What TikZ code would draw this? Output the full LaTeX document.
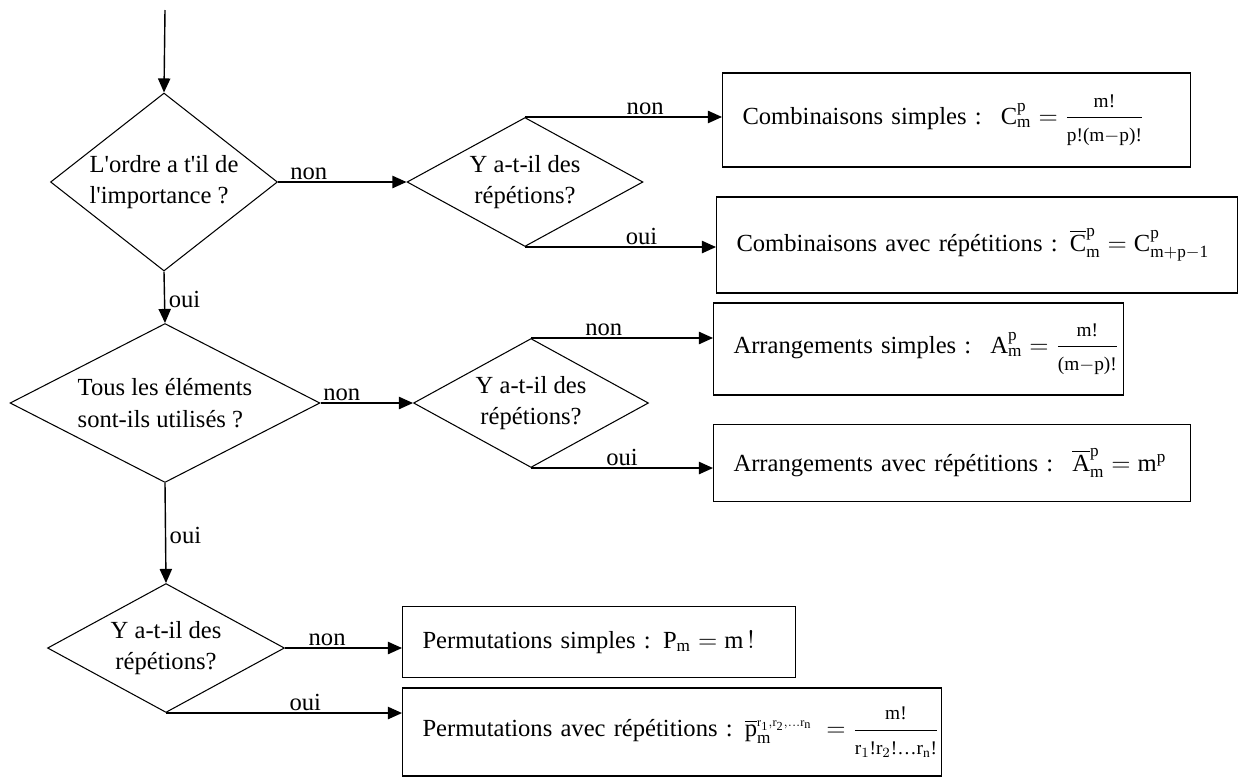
\documentclass[tikz,border=0pt]{standalone}
\usepackage{fontspec}
\setmainfont{Liberation Serif}
\usepackage{amsmath}
\usetikzlibrary{shapes.geometric,arrows.meta}
\newcommand{\chartfont}{\fontsize{14}{18}\selectfont}
\newcommand{\fracfont}{\fontsize{11}{13}\selectfont}
\newcommand{\ratio}[2]{\dfrac{\text{\fracfont #1}}{\text{\fracfont #2}}}
\newcommand{\q}{\textquotesingle}

\begin{document}
\begin{tikzpicture}[x=0.02cm,y=-0.02cm,line width=0.8pt,
  every node/.style={font=\chartfont},
  decision/.style={diamond,draw,line width=0.6pt,inner sep=0pt,align=center},
  result/.style={draw,line width=0.6pt,rectangle,anchor=west,align=left,inner xsep=0.4cm,inner ysep=0pt},
  flow/.style={-{Triangle[length=8pt,width=7pt]}},
  lbl/.style={above,inner sep=1pt}]
  \useasboundingbox (0,0) rectangle (1239,778);
  % decisions
  \node[decision,align=left,minimum width=4.54cm,minimum height=3.56cm,shape aspect=1.28] (d1) at (164,182) {L\q ordre a t\q il de\\l\q importance ?};
  \node[decision,minimum width=4.72cm,minimum height=2.58cm,shape aspect=1.83] (d2) at (525,182) {Y a-t-il des\\répétions?};
  \node[decision,align=left,minimum width=6.2cm,minimum height=3.18cm,shape aspect=1.95] (d3) at (165,403) {Tous les éléments\\sont-ils utilisés ?};
  \node[decision,minimum width=4.7cm,minimum height=2.58cm,shape aspect=1.82] (d4) at (531,403) {Y a-t-il des\\répétions?};
  \node[decision,minimum width=4.74cm,minimum height=2.58cm,shape aspect=1.84] (d5) at (166,648) {Y a-t-il des\\répétions?};
  % results
  \node[result,text width=8.56cm,minimum height=1.88cm] (c1) at (722,120) {\mbox{Combinaisons simples :\; $\mathrm{C}^{\mathrm{p}}_{\mathrm{m}}=\ratio{m!}{p!(m$-$p)!}$}};
  \node[result,text width=9.62cm,minimum height=1.92cm] (c2) at (716,245) {\mbox{Combinaisons avec répétitions : $\overline{\mathrm{C}}^{\mathrm{p}}_{\mathrm{m}}=\mathrm{C}^{\mathrm{p}}_{\mathrm{m+p-1}}$}};
  \node[result,text width=7.4cm,minimum height=1.84cm] (a1) at (713,349) {\mbox{Arrangements simples :\; $\mathrm{A}^{\mathrm{p}}_{\mathrm{m}}=\ratio{m!}{(m$-$p)!}$}};
  \node[result,text width=8.74cm,minimum height=1.54cm] (a2) at (713,463) {\mbox{Arrangements avec répétitions :\; $\overline{\mathrm{A}}^{\mathrm{p}}_{\mathrm{m}}=\mathrm{m}^{\mathrm{p}}$}};
  \node[result,text width=7.06cm,minimum height=1.42cm] (p1) at (402,642) {\mbox{Permutations simples : $\mathrm{P}_{\mathrm{m}}=\mathrm{m}\,!$}};
  \node[result,text width=9.98cm,minimum height=1.76cm] (p2) at (402,732) {\mbox{Permutations avec répétitions : $\overline{\mathrm{p}}^{\scriptscriptstyle\mathrm{r_1,r_2,\ldots r_n}}_{\mathrm{m}}\;={}\ratio{m!}{r$_1$!r$_2$!\ldots r$_{\mathrm{n}}$!}$}};
  % connectors
  \coordinate (start) at (165,10);
  \draw[flow] (start) -- (d1.north);
  \draw[flow] (d1.east) -- node[lbl,pos=0.24] {non} (d2.west);
  \draw[flow] (d1.south) -- node[right,inner sep=2pt,pos=0.55] {oui} (d3.north);
  \draw[flow] (d2.north) -- node[lbl,pos=0.61] {non} (d2.north -| c1.west);
  \draw[flow] (d2.south) -- node[lbl,pos=0.61] {oui} (d2.south -| c2.west);
  \draw[flow] (d3.east) -- node[lbl,pos=0.23] {non} (d4.west);
  \draw[flow] (d3.south) -- node[right,inner sep=2pt,pos=0.52] {oui} (d5.north);
  \draw[flow] (d4.north) -- node[lbl,pos=0.4] {non} (d4.north -| a1.west);
  \draw[flow] (d4.south) -- node[lbl,pos=0.5] {oui} (d4.south -| a2.west);
  \draw[flow] (d5.east) -- node[lbl,pos=0.36] {non} (d5.east -| p1.west);
  \draw[flow] (d5.south) -- node[lbl,pos=0.59] {oui} (d5.south -| p2.west);
\end{tikzpicture}
\end{document}
